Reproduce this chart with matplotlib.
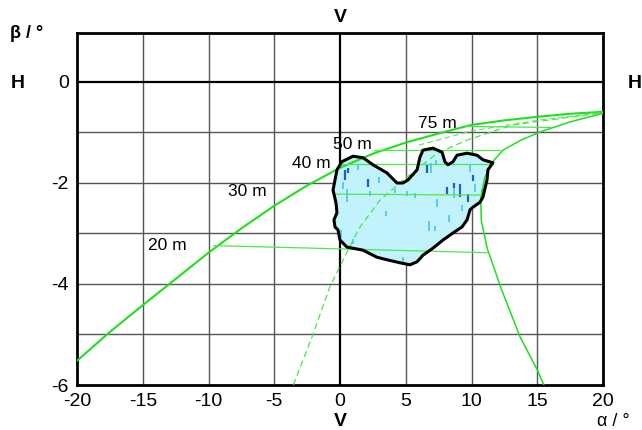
import matplotlib
matplotlib.use("Agg")
import matplotlib.pyplot as plt
from matplotlib.patches import Polygon

plt.rcParams['font.family'] = ['Liberation Sans', 'DejaVu Sans']
plt.rcParams['axes.unicode_minus'] = False

# Road edges and lane lines in the (alpha, beta) view, degrees
left_edge_alpha = [-20.0, -17.5, -15.0, -12.5, -10.0, -7.5, -5.0, -2.5, 0.0, 2.5, 5.0, 7.5,
                   10.0, 12.5, 15.0, 17.5, 20.0]
left_edge_beta = [-5.52, -4.95, -4.42, -3.9, -3.38, -2.9, -2.45, -2.05, -1.7, -1.42, -1.2,
                  -1.02, -0.85, -0.76, -0.69, -0.63, -0.59]

right_edge_alpha = [20.0, 17.5, 15.2, 13.7, 12.4, 11.6, 11.0, 10.7, 10.75, 11.2, 12.3, 13.7,
                    15.0, 15.5]
right_edge_beta = [-0.62, -0.79, -0.99, -1.16, -1.35, -1.58, -1.9, -2.3, -2.75, -3.3, -4.12,
                   -5.05, -5.7, -6.0]

centre_alpha = [-3.55, -2.13, -0.76, 0.53, 1.52, 3.04, 5.1, 7.4, 9.66, 13.16, 20.0]
centre_beta = [-6.0, -5.05, -4.05, -3.37, -2.87, -2.34, -1.88, -1.41, -1.15, -0.85, -0.61]

lane_alpha = [6.0, 10.0, 15.0, 20.0]
lane_beta = [-1.25, -0.97, -0.76, -0.6]

# Distance marks across the road
mark_text = ["20 m", "30 m", "40 m", "50 m", "75 m"]
mark_alpha_from = [-9.6, -0.4, 0.1, 2.6, 9.6]
mark_alpha_to = [11.2, 10.7, 11.6, 12.4, 16.0]
mark_beta_from = [-3.24, -2.22, -1.62, -1.35, -0.88]
mark_beta_to = [-3.38, -2.24, -1.62, -1.35, -0.9]
mark_text_alpha = [-14.6, -8.5, -3.65, -0.5, 5.95]
mark_text_beta = [-3.24, -2.16, -1.62, -1.23, -0.82]

# Outline of the observed area
area_alpha = [0.13, 0.99, 1.75, 2.51, 3.57, 4.33, 4.79, 5.17, 5.86, 6.08, 6.31, 7.07, 7.76,
              7.98, 8.21, 8.59, 8.90, 9.66, 10.42, 10.87, 11.63, 11.25, 11.18, 10.87, 10.65,
              10.11, 9.89, 9.66, 9.28, 8.59, 7.83, 7.07, 6.31, 5.86, 5.32, 4.56, 3.57, 2.81,
              1.75, 0.53, 0.0, -0.15, -0.38, -0.46, -0.23, -0.30, -0.53, -0.38, -0.23]
area_beta = [-1.58, -1.47, -1.50, -1.64, -1.80, -2.00, -2.00, -1.94, -1.74, -1.49, -1.35, -1.31,
             -1.39, -1.58, -1.64, -1.58, -1.45, -1.41, -1.45, -1.54, -1.60, -1.74, -1.94, -2.28,
             -2.38, -2.48, -2.53, -2.73, -2.87, -2.99, -3.13, -3.29, -3.43, -3.56, -3.62, -3.58,
             -3.52, -3.47, -3.33, -3.27, -3.13, -2.93, -2.87, -2.73, -2.59, -2.40, -2.14, -1.94,
             -1.74]

# Detections inside the area: (alpha, beta centre, beta extent)
dark_alpha = [0.35, 2.1, 9.1, 9.7, 8.1, 0.6, 10.1, 6.6, 8.7]
dark_beta = [-1.85, -2.0, -2.15, -2.3, -2.15, -1.75, -1.9, -1.72, -2.05]
dark_len = [0.2, 0.15, 0.25, 0.15, 0.15, 0.1, 0.12, 0.15, 0.1]

light_alpha = [0.5, 0.2, 2.3, 5.1, 5.7, 6.9, 7.3, 8.7, 9.9, 10.3, 7.4, 6.8, 7.2, 4.8, 0.1,
               1.0, 3.5, 8.3, 1.4, 4.2, 10.8, 11.2, 3.0, 9.3]
light_beta = [-2.25, -2.05, -2.2, -2.2, -2.25, -1.7, -1.6, -2.2, -1.7, -2.1, -2.4, -2.85, -2.9,
              -3.55, -3.0, -3.15, -2.6, -2.7, -1.7, -2.15, -2.2, -1.9, -1.95, -2.5]
light_len = [0.25, 0.15, 0.1, 0.1, 0.1, 0.2, 0.1, 0.2, 0.15, 0.15, 0.15, 0.2, 0.1, 0.15, 0.15,
             0.1, 0.1, 0.15, 0.1, 0.08, 0.15, 0.1, 0.12, 0.12]

x_ticks = [-20, -15, -10, -5, 0, 5, 10, 15, 20]
y_ticks = [0, -2, -4, -6]

fig = plt.figure(figsize=(6.42, 4.30), dpi=100)
ax = fig.add_axes([77 / 642, 45 / 430, 526 / 642, 352 / 430])
ax.set_xlim(-20, 20)
ax.set_ylim(-6, 0.97)

# grid
for a in [-15, -10, -5, 5, 10, 15]:
    ax.axvline(a, color='#555555', lw=1.0, zorder=1)
for b in [-1, -2, -3, -4, -5]:
    ax.axhline(b, color='#555555', lw=1.0, zorder=1)
ax.axvline(0, color='black', lw=1.6, zorder=1)
ax.axhline(0, color='black', lw=1.6, zorder=1)

# observed area
ax.add_patch(Polygon(list(zip(area_alpha, area_beta)), closed=True,
                     facecolor='#c2f3fc', edgecolor='none', zorder=2))
for a, b, l in zip(light_alpha, light_beta, light_len):
    ax.plot([a, a], [b - l / 2, b + l / 2], color='#45bfe8', lw=1.4, alpha=0.8,
            solid_capstyle='butt', zorder=2.2)
for a, b, l in zip(dark_alpha, dark_beta, dark_len):
    ax.plot([a, a], [b - l / 2, b + l / 2], color='#1e5ccc', lw=1.6,
            solid_capstyle='butt', zorder=2.3)

green = '#1ee01e'
ax.plot(left_edge_alpha, left_edge_beta, color=green, lw=1.5, zorder=3)
ax.plot(right_edge_alpha, right_edge_beta, color=green, lw=1.1, zorder=3)
ax.plot(centre_alpha, centre_beta, color='#44e844', lw=0.9, ls=(0, (5, 3)), zorder=3)
ax.plot(lane_alpha, lane_beta, color='#50e850', lw=0.8, ls=(0, (5, 3)), zorder=3)
for a0, a1, b0, b1 in zip(mark_alpha_from, mark_alpha_to, mark_beta_from, mark_beta_to):
    ax.plot([a0, a1], [b0, b1], color='#4ee84e', lw=0.9, zorder=3)
for t, a, b in zip(mark_text, mark_text_alpha, mark_text_beta):
    ax.text(a, b, t, fontsize=12.5, ha='left', va='center', color='black', zorder=5)

ax.add_patch(Polygon(list(zip(area_alpha, area_beta)), closed=True,
                     facecolor='none', edgecolor='black', lw=2.2, joinstyle='round', zorder=4))

ax.set_xticks(x_ticks)
ax.set_yticks(y_ticks)
ax.set_xticklabels([str(v) for v in x_ticks], fontsize=14)
ax.set_yticklabels([str(v) for v in y_ticks], fontsize=14)
ax.tick_params(length=0, pad=6)
for s in ax.spines.values():
    s.set_linewidth(2.0)
    s.set_color('black')

fig.text(10 / 642, 1 - 34 / 430, 'β / °', fontsize=13, fontweight='bold', ha='left', va='center')
fig.text(18 / 642, 1 - 83 / 430, 'H', fontsize=14, fontweight='bold', ha='center', va='center')
fig.text(635 / 642, 1 - 83 / 430, 'H', fontsize=14, fontweight='bold', ha='center', va='center')
fig.text(340 / 642, 1 - 17 / 430, 'V', fontsize=14, fontweight='bold', ha='center', va='center')
fig.text(340 / 642, 1 - 422 / 430, 'V', fontsize=14, fontweight='bold', ha='center', va='center')
fig.text(597 / 642, 1 - 421 / 430, 'α / °', fontsize=13, ha='left', va='center')

fig.savefig('out.png', dpi=100, facecolor='white')
